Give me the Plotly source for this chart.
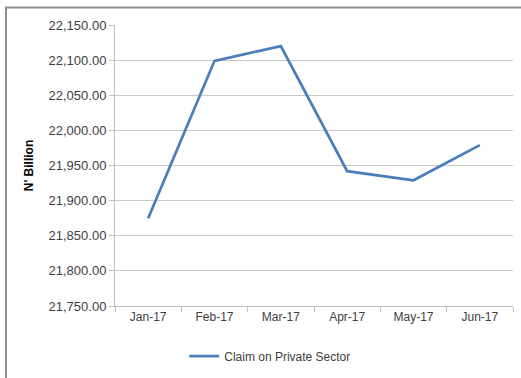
import plotly.graph_objects as go

# Monthly claim on private sector, 2017 (N' Billion)
months = ["Jan-17", "Feb-17", "Mar-17", "Apr-17", "May-17", "Jun-17"]
claims = [21875.0, 22099.0, 22120.0, 21942.0, 21929.0, 21979.0]
y_ticks = [21750, 21800, 21850, 21900, 21950, 22000, 22050, 22100, 22150]
y_tick_text = [f"{v:,.2f}" for v in y_ticks]

FONT = "Liberation Sans, Arial, sans-serif"

fig = go.Figure()
fig.add_trace(go.Scatter(
    x=months,
    y=claims,
    mode="lines",
    name="Claim on Private Sector",
    line=dict(color="#4a7ebb", width=2.75),
))

fig.update_layout(
    width=521,
    height=378,
    margin=dict(l=115, r=8, t=25, b=72),
    paper_bgcolor="white",
    plot_bgcolor="white",
    font=dict(family=FONT, size=13, color="#404040"),
    showlegend=True,
    legend=dict(
        orientation="h",
        x=0.39, xanchor="center",
        y=-0.178, yanchor="middle",
        font=dict(family=FONT, size=12, color="#404040"),
        itemwidth=30,
        bgcolor="rgba(0,0,0,0)",
    ),
    xaxis=dict(
        type="category",
        range=[-0.5, 5.5],
        tickson="boundaries",
        ticks="outside",
        ticklen=5,
        tickcolor="#bfbfbf",
        showline=True,
        linecolor="#bfbfbf",
        linewidth=1,
        showgrid=False,
        tickfont=dict(family=FONT, size=12, color="#404040"),
        fixedrange=True,
    ),
    yaxis=dict(
        range=[21750, 22150],
        tickmode="array",
        tickvals=y_ticks,
        ticktext=y_tick_text,
        ticks="outside",
        ticklen=5,
        tickcolor="#bfbfbf",
        showline=True,
        linecolor="#bfbfbf",
        linewidth=1,
        showgrid=True,
        gridcolor="#c8c8c8",
        gridwidth=1,
        zeroline=False,
        tickfont=dict(family=FONT, size=13, color="#404040"),
        title=dict(
            text="<b>N' Billion</b>",
            font=dict(family=FONT, size=12, color="#000000"),
            standoff=12,
        ),
        fixedrange=True,
    ),
    shapes=[
        # outer chart-area frame, running past the right and bottom edges
        dict(
            type="rect",
            xref="paper", yref="paper",
            x0=-0.2739, x1=1.10,
            y0=-0.40, y1=1.0623,
            line=dict(color="#8f8f8f", width=2),
            fillcolor="rgba(0,0,0,0)",
            layer="below",
        ),
    ],
)

fig.write_html("out.html")
